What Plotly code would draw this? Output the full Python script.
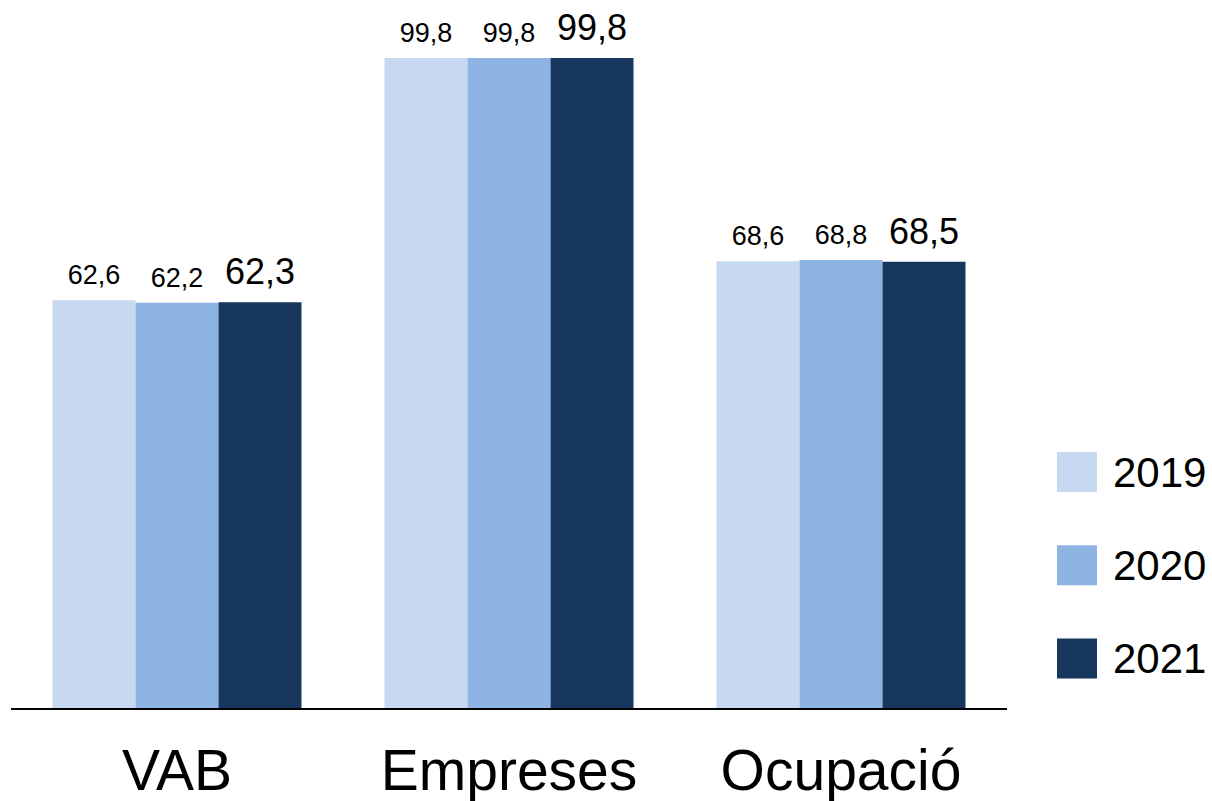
import plotly.graph_objects as go

categories = ["VAB", "Empreses", "Ocupació"]
years = ["2019", "2020", "2021"]
values_2019 = [62.6, 99.8, 68.6]
values_2020 = [62.2, 99.8, 68.8]
values_2021 = [62.3, 99.8, 68.5]

series = [values_2019, values_2020, values_2021]
colors = ["#C6D9F1", "#8EB4E3", "#17375E"]
label_sizes = [27, 27, 36]

W, H = 1212, 801
ML, MR, MT, MB = 11, 205, 20, 93
PW, PH = W - ML - MR, H - MT - MB

fig = go.Figure()
for name, vals, col in zip(years, series, colors):
    fig.add_trace(go.Bar(
        x=categories, y=vals, name=name, marker_color=col,
        marker_line_width=0, offsetgroup=name, showlegend=False,
        hoverinfo="skip",
    ))
for name, vals, size in zip(years, series, label_sizes):
    fig.add_trace(go.Scatter(
        x=categories, y=vals, mode="markers+text", offsetgroup=name,
        marker=dict(size=13, opacity=0), showlegend=False,
        text=[f"{v:.1f}".replace(".", ",") for v in vals],
        textposition="top center",
        textfont=dict(family="Liberation Sans, Arial", size=size, color="black"),
        cliponaxis=False, hoverinfo="skip",
    ))

def px_x(x):
    return (x - ML) / PW

def px_y(y):
    return (MT + PH - y) / PH

shapes = []
annotations = []
leg_top = 452
leg_step = 93.3
for i, (name, col) in enumerate(zip(years, colors)):
    y0 = leg_top + i * leg_step
    shapes.append(dict(type="rect", xref="paper", yref="paper",
                       x0=px_x(1057), x1=px_x(1097), y0=px_y(y0 + 40), y1=px_y(y0),
                       fillcolor=col, line_width=0))
    annotations.append(dict(xref="paper", yref="paper", x=px_x(1111), y=px_y(y0 + 20),
                            text=name, showarrow=False, xanchor="left", yanchor="middle",
                            font=dict(family="Liberation Sans, Arial", size=42, color="black")))

fig.update_layout(
    width=W, height=H,
    margin=dict(l=ML, r=MR, t=MT, b=MB, autoexpand=False),
    paper_bgcolor="white", plot_bgcolor="white",
    barmode="group", bargap=0.25, bargroupgap=0,
    scattermode="group", scattergap=0.25,
    showlegend=False,
    shapes=shapes, annotations=annotations,
    font=dict(family="Liberation Sans, Arial", color="black"),
    xaxis=dict(showline=True, linecolor="black", linewidth=2, ticks="",
               tickfont=dict(size=57), showgrid=False, zeroline=False,
               ticklabelstandoff=12, automargin=False),
    yaxis=dict(range=[0, 105.63], visible=False, showgrid=False, zeroline=False,
               automargin=False),
)

fig.write_html("out.html", config={"displayModeBar": False},
               post_script="document.body.style.margin='0';")
